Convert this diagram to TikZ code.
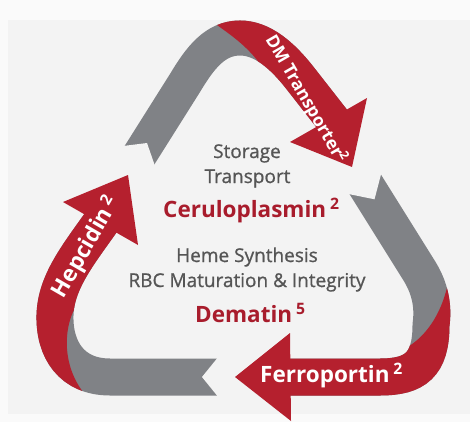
\documentclass[tikz,border=0pt]{standalone}
\usepackage{fontspec}
\setmainfont{Open Sans}
\newfontfamily\midweight{Open Sans}[FakeBold=0.9]
\definecolor{bandred}{RGB}{181,32,46}
\definecolor{bandgray}{RGB}{128,130,134}
\definecolor{bgc}{RGB}{243,243,243}
\definecolor{edgec}{RGB}{250,250,250}
\definecolor{txtgray}{RGB}{85,85,85}
\definecolor{txtred}{RGB}{168,28,44}
\tikzset{
  topband/.style={line width=35pt},
  sideband/.style={line width=37pt},
  graytxt/.style={text=txtgray, font=\midweight\fontsize{19}{22}\selectfont, inner sep=0pt, anchor=base},
  redtxt/.style={text=txtred, font=\fontsize{22.5}{24}\selectfont\bfseries, inner sep=0pt, anchor=base west},
  bandtxt/.style={text=white, font=\fontsize{22.5}{24}\selectfont\bfseries, inner sep=0pt},
  smallbandtxt/.style={text=white, font=\fontsize{17.5}{20}\selectfont\bfseries, inner sep=0pt},
}
\begin{document}
\begin{tikzpicture}[x=1pt,y=-1pt]
\useasboundingbox (0,0) rectangle (470,422);
\fill[edgec] (0,0) rectangle (470,422);
\fill[bgc] (8,20) rectangle (470,414);

% ---- top arrow (DM Transporter)
\draw[bandgray, topband] (139,156) -- (185,83) .. controls (200,58) and (215,38) .. (240,38) .. controls (262,38) and (282,55) .. (300,78) -- (336,124);
\begin{scope}
  \clip (203,0) -- (208,18) .. controls (225,32) and (245,42) .. (263,68) -- (300,200) -- (470,200) -- (470,0) -- cycle;
  \draw[bandred, topband] (139,156) -- (185,83) .. controls (200,58) and (215,38) .. (240,38) .. controls (262,38) and (282,55) .. (300,78) -- (336,124);
\end{scope}
\fill[bandred] (290,142) -- (367,98) -- (352,167) -- cycle;
\fill[bgc] (155.5,167.5) -- (147,143) -- (121.5,146.2) -- cycle;

% ---- right arrow (Ferroportin)
\draw[bandgray, sideband] (365,184) -- (420,272) .. controls (432,292) and (433,310) .. (431,325) .. controls (431,365) and (415,377) .. (380,377) -- (285,377);
\begin{scope}
  \clip (470,250) -- (449,278) .. controls (442,318) and (420,348) .. (386,356) -- (200,356) -- (200,422) -- (470,422) -- cycle;
  \draw[bandred, sideband] (365,184) -- (420,272) .. controls (432,292) and (433,310) .. (431,325) .. controls (431,365) and (415,377) .. (380,377) -- (285,377);
\end{scope}
\fill[bandred] (235,377) -- (290,333) -- (291,421) -- cycle;
\fill[bgc] (381.5,172.5) -- (374.5,199.3) -- (347.5,193.8) -- cycle;

% ---- left arrow (Hepcidin)
\draw[bandgray, sideband] (218,377) -- (110,377) .. controls (72,377) and (54,350) .. (55,315) .. controls (56,282) and (78,255) .. (102,221);
\begin{scope}
  \clip (0,150) -- (170,150) -- (170,262) -- (100,290) -- (76,306) .. controls (62,330) and (62,372) .. (90,400) -- (90,422) -- (0,422) -- cycle;
  \draw[bandred, sideband] (218,377) -- (110,377) .. controls (72,377) and (54,350) .. (55,315) .. controls (56,282) and (78,255) .. (102,221);
\end{scope}
\fill[bandred] (63,202) -- (128,175) -- (138,245) -- cycle;
\fill[bgc] (219,356) -- (202,377) -- (219,398) -- cycle;

% ---- band labels
\node[smallbandtxt, rotate=-60] (dm) at (306,99) {DM Transporter\textsuperscript{2}};
\node[bandtxt, anchor=base west] (fp) at (260,382) {Ferroportin\,\textsuperscript{2}};
\node[bandtxt, rotate=60] (hp) at (86,247) {Hepcidin\,\textsuperscript{2}};

% ---- centre texts
\node[graytxt] (st) at (247,158) {Storage};
\node[graytxt] (tr) at (247.5,183) {Transport};
\node[redtxt] (ce) at (163,217) {Ceruloplasmin\,\textsuperscript{2}};
\node[graytxt] (hs) at (247,262) {Heme Synthesis};
\node[graytxt] (rbc) at (247,287) {RBC Maturation \& Integrity};
\node[redtxt] (de) at (195,322) {Dematin\,\textsuperscript{5}};
\end{tikzpicture}
\end{document}
